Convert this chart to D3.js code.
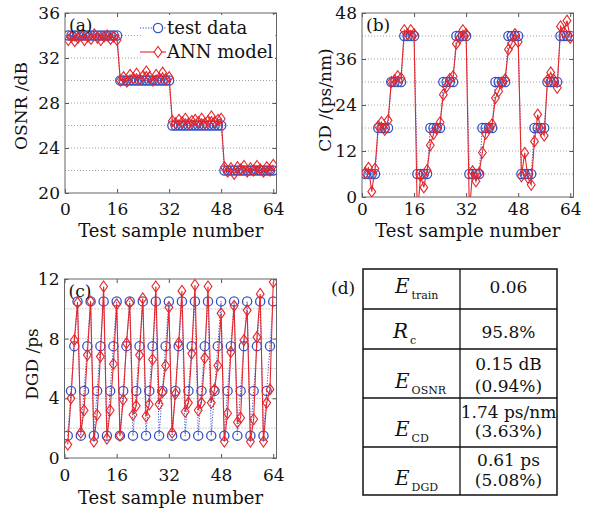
<!DOCTYPE html>
<html><head><meta charset="utf-8">
<script src="https://cdn.jsdelivr.net/npm/d3@7/dist/d3.min.js"></script>
<style>body{margin:0;background:#fff} text{font-family:"DejaVu Serif",serif;fill:#111}</style>
</head><body><svg id="chart" width="595" height="512"></svg>
<script>
// ---------------- data ----------------
const sampleNumbers = [1,2,3,4,5,6,7,8,9,10,11,12,13,14,15,16,17,18,19,20,21,22,23,24,25,26,27,28,29,30,31,32,
  33,34,35,36,37,38,39,40,41,42,43,44,45,46,47,48,49,50,51,52,53,54,55,56,57,58,59,60,61,62,63,64];

const osnrTest = [34,34,34,34,34,34,34,34,34,34,34,34,34,34,34,34,
  30,30,30,30,30,30,30,30,30,30,30,30,30,30,30,30,
  26,26,26,26,26,26,26,26,26,26,26,26,26,26,26,26,
  22,22,22,22,22,22,22,22,22,22,22,22,22,22,22,22];
const osnrANN = [33.6,33.9,33.5,33.8,34.0,33.6,33.9,33.7,34.1,33.8,33.6,33.9,34.0,33.7,33.9,33.6,
  30.0,30.3,29.9,30.5,30.2,30.6,30.1,30.4,30.8,30.3,30.0,30.5,30.2,30.7,30.1,30.3,
  26.4,26.2,26.5,26.3,26.6,26.2,26.4,26.5,26.3,26.6,26.2,26.4,26.8,26.3,26.5,26.6,
  22.3,21.9,22.2,21.7,22.3,22.1,22.4,21.9,22.2,22.0,22.4,22.1,21.9,22.3,22.0,22.5];

const cdTest = [6,6,6,6,18,18,18,18,30,30,30,30,42,42,42,42,
  6,6,6,6,18,18,18,18,30,30,30,30,42,42,42,42,
  6,6,6,6,18,18,18,18,30,30,30,30,42,42,42,42,
  6,6,6,6,18,18,18,18,30,30,30,30,42,42,42,42];
const cdANN = [6.3,7.6,1.4,7.4,18.5,19.5,17.5,20.0,30.0,30.5,31.5,31.0,43.5,42.5,43.5,42.5,
  -5,5.5,2.5,7.0,13.5,16.5,17.8,19.5,26.7,28.8,30.8,31.5,40.0,41.5,43.5,42.5,
  -4,6.7,4.1,6.3,11.6,16.5,18.0,19.0,25.8,27.6,29.8,30.7,38.5,40.0,42.5,40.5,
  5.4,11.5,5.0,3.2,14.5,21.5,17.5,16.0,30.5,32.5,30.5,28.5,44.5,43.0,46.0,41.5];

const dgdTest = [1.5,4.5,7.5,10.5,1.5,4.5,7.5,10.5,1.5,4.5,7.5,10.5,1.5,4.5,7.5,10.5,
  1.5,4.5,7.5,10.5,1.5,4.5,7.5,10.5,1.5,4.5,7.5,10.5,1.5,4.5,7.5,10.5,
  1.5,4.5,7.5,10.5,1.5,4.5,7.5,10.5,1.5,4.5,7.5,10.5,1.5,4.5,7.5,10.5,
  1.5,4.5,7.5,10.5,1.5,4.5,7.5,10.5,1.5,4.5,7.5,10.5,1.5,4.5,7.5,10.5];
const dgdANN = [0.9,4.0,7.9,10.4,1.7,3.2,6.9,10.5,1.1,2.9,6.8,11.5,1.3,3.2,6.3,10.3,
  1.5,3.9,7.7,10.4,2.9,3.5,6.9,10.7,2.8,3.6,6.6,11.5,3.6,4.4,6.2,10.1,
  1.7,4.3,7.7,11.2,3.1,3.7,7.0,11.6,3.2,3.7,6.7,11.5,3.7,4.6,6.2,9.7,
  1.1,3.0,7.1,10.2,2.4,2.7,7.9,9.9,1.1,2.6,8.1,11.0,1.1,3.7,4.6,11.8];

const xTicks = [0,16,32,48,64];
const osnrTicks = [20,24,28,32,36];
const osnrGrid = [22,24,26,28,30,32,34];
const cdTicks = [0,12,24,36,48];
const cdGrid = [6,12,18,24,30,36,42];
const dgdTicks = [0,4,8,12];
const dgdGrid = [2,4,6,8,10];
const legendLabels = ["test data","ANN model"];
const xTitle = "Test sample number";

const tableSymbols = ["E","R","E","E","E"];
const tableSubs = ["train","c","OSNR","CD","DGD"];
const tableValues = [["0.06"],["95.8%"],["0.15 dB","(0.94%)"],["1.74 ps/nm","(3.63%)"],["0.61 ps","(5.08%)"]];

// ---------------- drawing ----------------
const svg = d3.select("#chart");
const BLUE = "#3552c4", RED = "#e5262b";
const diamond = "M0,-5.5L3.9,0L0,5.5L-3.9,0Z";

function panel(o){
  const g = svg.append("g");
  const x = d3.scaleLinear().domain([0,65]).range([o.l,o.r]);
  const y = d3.scaleLinear().domain(o.yd).range([o.b,o.t]);
  const id = "clip"+o.label.replace(/\W/g,"");
  svg.append("clipPath").attr("id",id).append("rect")
    .attr("x",o.l).attr("y",o.t).attr("width",o.r-o.l).attr("height",o.b-o.t);
  // grid
  g.append("g").selectAll("line").data(o.grid).join("line")
    .attr("x1",o.l).attr("x2",o.r).attr("y1",d=>y(d)).attr("y2",d=>y(d))
    .attr("stroke","#8a8a8a").attr("stroke-width",0.8).attr("stroke-dasharray","1,2");
  // axes
  const style = s => { s.select(".domain").remove(); s.selectAll(".tick line").attr("stroke","#555");
     s.selectAll("text").attr("font-size",17).attr("font-family","DejaVu Serif").attr("fill","#111"); };
  g.append("g").attr("transform",`translate(0,${o.b})`)
    .call(d3.axisBottom(x).tickValues(xTicks).tickSizeInner(-4).tickSizeOuter(0).tickPadding(o.xpad)).call(style);
  g.append("g").attr("transform",`translate(0,${o.t})`)
    .call(d3.axisTop(x).tickValues(xTicks).tickSizeInner(-4).tickSizeOuter(0).tickFormat("")).call(style);
  g.append("g").attr("transform",`translate(${o.l},0)`)
    .call(d3.axisLeft(y).tickValues(o.yt).tickSizeInner(-4).tickSizeOuter(0).tickPadding(5)).call(style);
  g.append("g").attr("transform",`translate(${o.r},0)`)
    .call(d3.axisRight(y).tickValues(o.yt).tickSizeInner(-4).tickSizeOuter(0).tickFormat("")).call(style);
  g.append("rect").attr("x",o.l).attr("y",o.t).attr("width",o.r-o.l).attr("height",o.b-o.t)
    .attr("fill","none").attr("stroke","#666").attr("stroke-width",1);
  // data
  const d = sampleNumbers.map((s,i)=>({s, t:o.test[i], a:o.ann[i]}));
  const dg = g.append("g").attr("clip-path",`url(#${id})`);
  dg.append("path").datum(d).attr("fill","none").attr("stroke",BLUE).attr("stroke-width",1)
    .attr("stroke-dasharray","1.2,1.5").attr("d",d3.line().x(p=>x(p.s)).y(p=>y(p.t)));
  dg.selectAll("circle").data(d).join("circle").attr("cx",p=>x(p.s)).attr("cy",p=>y(p.t)).attr("r",4.6)
    .attr("fill","none").attr("stroke",BLUE).attr("stroke-width",1.3);
  dg.append("path").datum(d).attr("fill","none").attr("stroke",RED).attr("stroke-width",1.1)
    .attr("d",d3.line().x(p=>x(p.s)).y(p=>y(p.a)));
  dg.selectAll("path.dm").data(d).join("path").attr("class","dm").attr("d",diamond)
    .attr("transform",p=>`translate(${x(p.s)},${y(p.a)})`)
    .attr("fill","none").attr("stroke",RED).attr("stroke-width",1.1);
  // titles
  svg.append("text").attr("x",(o.l+o.r)/2).attr("y",o.xty).attr("text-anchor","middle")
    .attr("font-size",18).text(xTitle);
  svg.append("text").attr("transform",`translate(${o.ylx},${o.yly}) rotate(-90)`).attr("text-anchor","middle")
    .attr("font-size",17).text(o.ylabel);
  svg.append("text").attr("x",o.l+4).attr("y",o.t+18).attr("font-size",17).text(o.label);
  return {g,x,y};
}

const pa = panel({l:65,r:276.5,t:13,b:193,yd:[20,36],yt:osnrTicks,grid:osnrGrid,test:osnrTest,ann:osnrANN,
  xpad:10,xty:237,ylx:27,yly:106,ylabel:"OSNR /dB",label:"(a)"});
panel({l:362,r:573.5,t:13,b:197,yd:[0,48],yt:cdTicks,grid:cdGrid,test:cdTest,ann:cdANN,
  xpad:6,xty:237,ylx:331,yly:100,ylabel:"CD /(ps/nm)",label:"(b)"});
panel({l:64.5,r:276.5,t:279,b:458,yd:[0,12],yt:dgdTicks,grid:dgdGrid,test:dgdTest,ann:dgdANN,
  xpad:11,xty:504,ylx:38,yly:364,ylabel:"DGD /ps",label:"(c)"});

// legend in (a)
const lg = svg.append("g");
lg.append("rect").attr("x",142).attr("y",15).attr("width",133).attr("height",48).attr("fill","#fff");
[0,1].forEach(i=>{
  const yy = 28 + i*24;
  lg.append("line").attr("x1",140).attr("x2",166).attr("y1",yy).attr("y2",yy)
    .attr("stroke", i? RED: BLUE).attr("stroke-width",1.1).attr("stroke-dasharray", i? null : "1.2,1.5");
  if(i===0) lg.append("circle").attr("cx",158).attr("cy",yy).attr("r",4.6).attr("fill","#fff").attr("stroke",BLUE).attr("stroke-width",1.3);
  else lg.append("path").attr("d",diamond).attr("transform",`translate(158,${yy})`).attr("fill","#fff").attr("stroke",RED).attr("stroke-width",1.1);
  lg.append("text").attr("x",167).attr("y",yy+6).attr("font-size",18).text(legendLabels[i]);
});

// table (d)
const tl = 363, tm = 460, tr = 557;
const rowLines = [269,309,349,398,447,495];
const symBase = [293,338,388,436,485];
const valBase = [[293],[338],[370,392],[418,437],[466,486]];
svg.append("text").attr("x",331).attr("y",294).attr("font-size",17).text("(d)");
const tg = svg.append("g");
tg.append("rect").attr("x",tl).attr("y",rowLines[0]).attr("width",tr-tl).attr("height",rowLines[5]-rowLines[0])
  .attr("fill","none").attr("stroke","#111").attr("stroke-width",1.5);
tg.append("line").attr("x1",tm).attr("x2",tm).attr("y1",rowLines[0]).attr("y2",rowLines[5]).attr("stroke","#111").attr("stroke-width",1.3);
rowLines.slice(1,5).forEach(v=>tg.append("line").attr("x1",tl).attr("x2",tr).attr("y1",v).attr("y2",v).attr("stroke","#111").attr("stroke-width",1.3));
tableSymbols.forEach((s,i)=>{
  const t = tg.append("text").attr("x", s==="R"?393:395).attr("y",symBase[i]);
  t.append("tspan").attr("font-style","italic").attr("font-size",20).text(s);
  t.append("tspan").attr("font-size",11).attr("dx",2).attr("dy",6).text(tableSubs[i]);
  tableValues[i].forEach((v,j)=>tg.append("text").attr("x",(tm+tr)/2).attr("y",valBase[i][j])
    .attr("text-anchor","middle").attr("font-size",17).text(v));
});
</script></body></html>
